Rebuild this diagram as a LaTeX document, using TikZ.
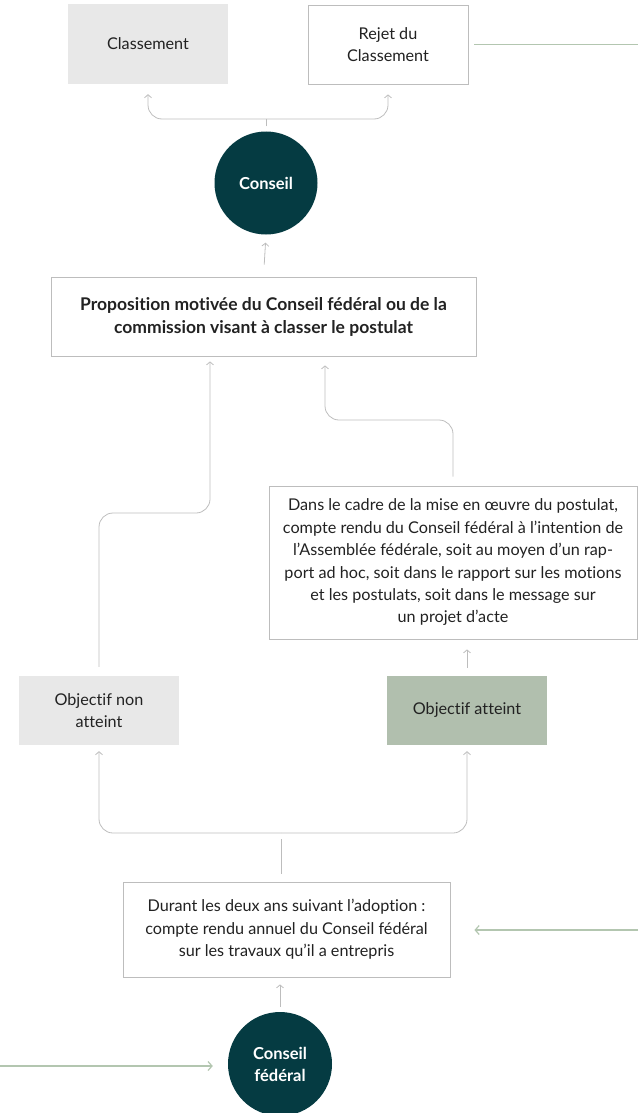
\documentclass[tikz,border=0pt]{standalone}
\usepackage{fontspec}
\setmainfont{Lato}[Ligatures=CommonOff]
\usepackage{xcolor}
\usepackage{tikz}
\usetikzlibrary{arrows.meta, positioning, calc}
\definecolor{fedteal}{HTML}{053B42}
\definecolor{fedgrey}{HTML}{E8E8E8}
\definecolor{fedsage}{HTML}{B1BFAE}
\definecolor{fedgreen}{HTML}{B3C6B0}
\definecolor{fedline}{HTML}{BDBDBD}
\definecolor{fedtext}{HTML}{222222}

\begin{document}
\begin{tikzpicture}[x=1pt, y=-1pt,
  every node/.style={font=\fontsize{16.2}{22.4}\selectfont, text=fedtext, align=center, inner sep=0pt},
  stage/.style={draw=fedline, line width=0.8pt, fill=white},
  flat/.style={fill=#1, minimum width=160pt, minimum height=69pt},
  disc/.style={circle, fill=fedteal, minimum size=103pt, text=white, font=\bfseries\fontsize{16.5}{22}\selectfont},
  link/.style={draw=fedline, line width=0.8pt, -{Straight Barb[length=3pt,width=7pt]}},
  feed/.style={draw=fedgreen, line width=1.2pt, -{Straight Barb[length=4pt,width=9pt]}}]
  \useasboundingbox (0,0) rectangle (638,1113);
  % outcome of the vote in the council
  \node[flat=fedgrey, minimum height=80pt] (classement) at (148,44) {Classement};
  \node[stage, minimum width=160pt, minimum height=79pt] (rejet) at (388,44.5) {Rejet du\\Classement};
  \node[disc] (conseil) at (266,183) {Conseil};
  \node[stage, minimum width=425pt, minimum height=79pt, font=\bfseries\fontsize{17.5}{23}\selectfont] (prop) at (263.5,316.5)
    {Proposition motivée du Conseil fédéral ou de la\\commission visant à classer le postulat};
  % report and the two outcomes
  \node[stage, minimum width=368pt, minimum height=153pt] (dans) at (453,562.5)
    {Dans le cadre de la mise en œuvre du postulat,\\compte rendu du Conseil fédéral à l’intention de\\l’Assemblée fédérale, soit au moyen d’un rap-\\port ad hoc, soit dans le rapport sur les motions\\et les postulats, soit dans le message sur\\un projet d’acte};
  \node[flat=fedgrey] (objnon) at (99,710.5) {Objectif non\\atteint};
  \node[flat=fedsage] (objatt) at (467,710.5) {Objectif atteint};
  % yearly report after adoption
  \node[stage, minimum width=327pt, minimum height=95pt] (durant) at (286.5,929.5)
    {Durant les deux ans suivant l’adoption :\\compte rendu annuel du Conseil fédéral\\sur les travaux qu’il a entrepris};
  \node[disc, minimum size=104pt] (federal) at (280,1064) {Conseil\\fédéral};
  % forks and bends
  \coordinate (topfork) at (266,119);
  \coordinate (leftbend) at (210,513);
  \coordinate (rightbend) at (325,420);
  \coordinate (botfork) at (281,833);
  \coordinate (feedtop) at (638,43);
  \coordinate (feedmid) at (638,930);
  \coordinate (feedlow) at (0,1066);
  % grey connectors
  \draw[link, rounded corners=14pt, shorten >=10pt] (topfork) -| (classement.south);
  \draw[link, rounded corners=14pt, shorten >=10pt] (topfork) -| (rejet.south);
  \draw[fedline, line width=0.8pt, shorten <=5pt] (conseil.north) -- (topfork);
  \draw[link, shorten <=12pt, shorten >=8pt] (prop.north) -- (conseil.south);
  \draw[link, rounded corners=14pt, shorten <=9pt, shorten >=5pt] (objnon.north) |- (leftbend) -- (leftbend |- prop.south);
  \draw[link, rounded corners=14pt, shorten <=9pt, shorten >=9pt] (dans.north) |- (rightbend) -- (rightbend |- prop.south);
  \draw[link, shorten <=8pt, shorten >=10pt] (objatt.north) -- (dans.south -| objatt.north);
  \draw[link, rounded corners=14pt, shorten >=6pt] (botfork) -| (objnon.south);
  \draw[link, rounded corners=14pt, shorten >=6pt] (botfork) -| (objatt.south);
  \draw[fedline, line width=0.8pt, shorten <=8pt, shorten >=6pt] (botfork |- durant.north) -- (botfork);
  \draw[link, shorten <=5pt, shorten >=7pt] (federal.north) -- (federal.north |- durant.south);
  % green feeds from outside
  \draw[fedgreen, line width=1.2pt, shorten <=6pt] (rejet.east) -- (rejet.east -| feedtop);
  \draw[feed, shorten >=24pt] (feedmid) -- (feedmid -| durant.east);
  \draw[feed, shorten >=15pt] (feedlow) -- (feedlow -| federal.west);
\end{tikzpicture}
\end{document}
